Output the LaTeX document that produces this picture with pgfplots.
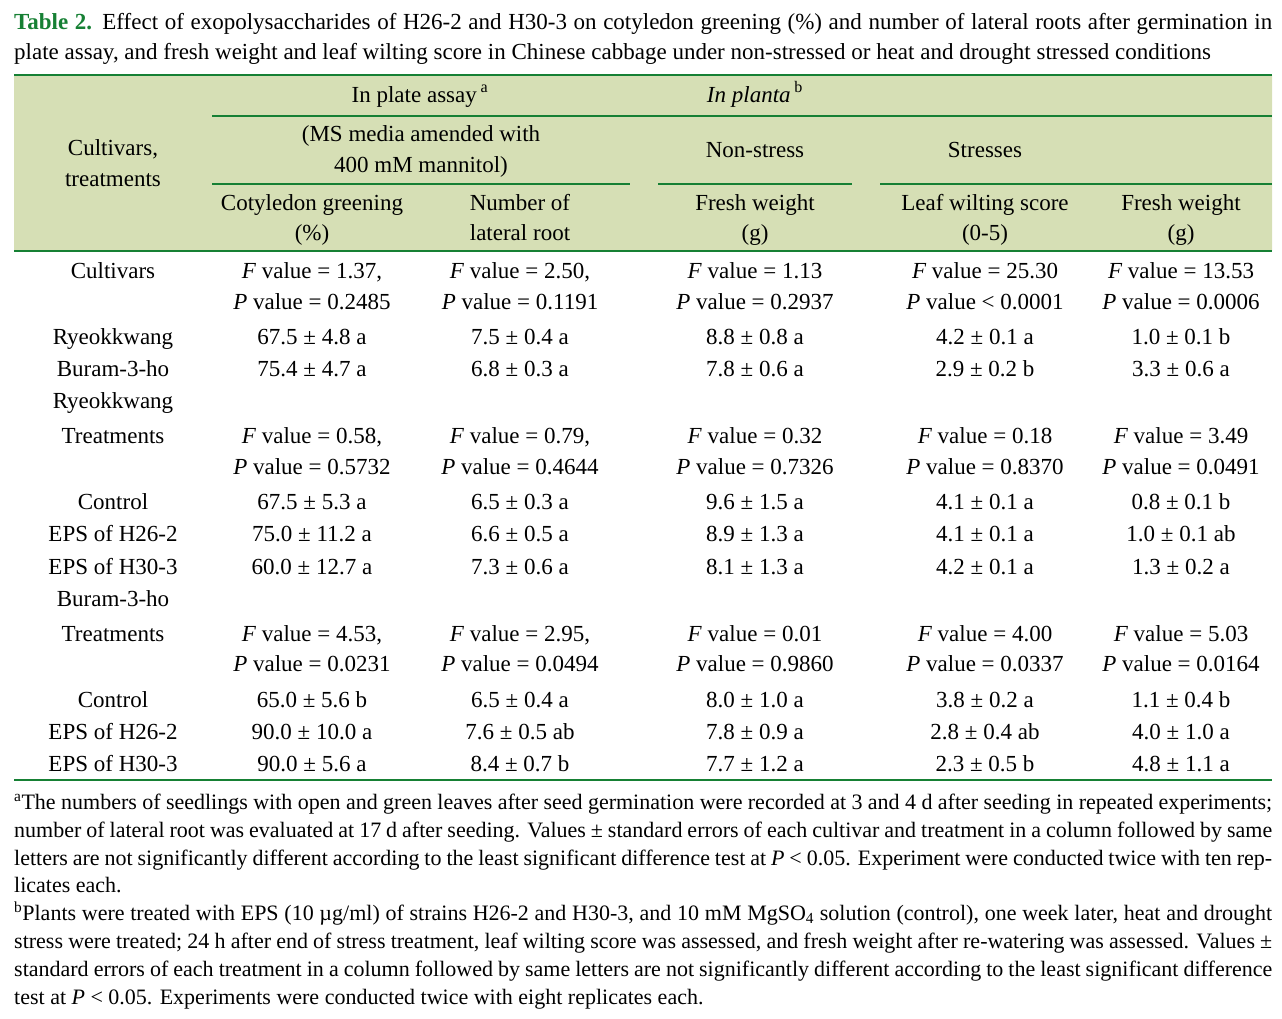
\documentclass[border=0pt]{standalone}
\usepackage{fontspec}
\setmainfont{Liberation Serif}
\usepackage{pgfplots}
\pgfplotsset{compat=1.18}
\definecolor{tgreen}{RGB}{22,128,52}
\definecolor{band}{RGB}{214,223,181}
\newcommand{\T}[3]{\node[anchor=base,inner sep=0pt] at (axis cs:#1,#2) {#3};}
\newcommand{\JJ}[2]{\node[anchor=base west,inner sep=0pt] at (axis cs:14,#1) {\makebox[1258pt][s]{#2}};}
\newcommand{\LL}[2]{\node[anchor=base west,inner sep=0pt] at (axis cs:14,#1) {#2};}
\newcommand{\FN}{\fontsize{22pt}{26pt}\selectfont}
\newcommand{\FV}[1]{\textit{F} value = #1}
\newcommand{\PV}[1]{\textit{P} value = #1}
\begin{document}
\fontsize{23pt}{27pt}\selectfont
\begin{tikzpicture}
\begin{axis}[hide axis, scale only axis, width=1282pt, height=1018pt,
  xmin=0, xmax=1282, ymin=0, ymax=1018, y dir=reverse, clip=false,
  every node/.style={font=\fontsize{23pt}{27pt}\selectfont}]
% frame for the bounding box
\addplot[draw=none, forget plot] coordinates {(0,0) (1282,0) (1282,1018) (0,1018)};
% header band
\addplot[fill=band, draw=none] coordinates {(14,75) (1272,75) (1272,251) (14,251) (14,75)};
% rules
\addplot[tgreen, line width=2pt] coordinates {(14,75) (1272,75)};
\addplot[tgreen, line width=2pt] coordinates {(212,116) (1272,116)};
\addplot[tgreen, line width=2pt] coordinates {(212,184) (630,184)};
\addplot[tgreen, line width=2pt] coordinates {(658,184) (852,184)};
\addplot[tgreen, line width=2pt] coordinates {(880,184) (1272,184)};
\addplot[tgreen, line width=2.4pt] coordinates {(14,251) (1272,251)};
\addplot[tgreen, line width=2pt] coordinates {(14,780) (1272,780)};
% title
\JJ{29}{{\bfseries\color{tgreen}Table 2.} Effect of exopolysaccharides of H26-2 and H30-3 on cotyledon greening (\%) and number of lateral roots after germination in}
\LL{59}{plate assay, and fresh weight and leaf wilting score in Chinese cabbage under non-stressed or heat and drought stressed conditions}
% header text
\T{420}{102}{In plate assay\,\textsuperscript{a}}
\T{755}{102}{\textit{In planta}\,\textsuperscript{b}}
\T{421}{141}{(MS media amended with}
\T{421}{172}{400 mM mannitol)}
\T{113}{155}{Cultivars,}
\T{113}{186}{treatments}
\T{755}{157}{Non-stress}
\T{985}{157}{Stresses}
\T{312}{210}{Cotyledon greening}
\T{312}{240}{(\%)}
\T{520}{210}{Number of}
\T{520}{240}{lateral root}
\T{755}{210}{Fresh weight}
\T{755}{240}{(g)}
\T{985}{210}{Leaf wilting score}
\T{985}{240}{(0-5)}
\T{1181}{210}{Fresh weight}
\T{1181}{240}{(g)}
% body: cultivars
\T{113}{278}{Cultivars}
\T{312}{278}{\FV{1.37},}
\T{312}{309}{\PV{0.2485}}
\T{520}{278}{\FV{2.50},}
\T{520}{309}{\PV{0.1191}}
\T{755}{278}{\FV{1.13}}
\T{755}{309}{\PV{0.2937}}
\T{985}{278}{\FV{25.30}}
\T{985}{309}{\textit{P} value < 0.0001}
\T{1181}{278}{\FV{13.53}}
\T{1181}{309}{\PV{0.0006}}
\T{113}{344}{Ryeokkwang}
\T{312}{344}{67.5 ± 4.8 a}
\T{520}{344}{7.5 ± 0.4 a}
\T{755}{344}{8.8 ± 0.8 a}
\T{985}{344}{4.2 ± 0.1 a}
\T{1181}{344}{1.0 ± 0.1 b}
\T{113}{376}{Buram-3-ho}
\T{312}{376}{75.4 ± 4.7 a}
\T{520}{376}{6.8 ± 0.3 a}
\T{755}{376}{7.8 ± 0.6 a}
\T{985}{376}{2.9 ± 0.2 b}
\T{1181}{376}{3.3 ± 0.6 a}
% Ryeokkwang treatments
\T{113}{408}{Ryeokkwang}
\T{113}{443}{Treatments}
\T{312}{443}{\FV{0.58},}
\T{312}{474}{\PV{0.5732}}
\T{520}{443}{\FV{0.79},}
\T{520}{474}{\PV{0.4644}}
\T{755}{443}{\FV{0.32}}
\T{755}{474}{\PV{0.7326}}
\T{985}{443}{\FV{0.18}}
\T{985}{474}{\PV{0.8370}}
\T{1181}{443}{\FV{3.49}}
\T{1181}{474}{\PV{0.0491}}
\T{113}{509}{Control}
\T{312}{509}{67.5 ± 5.3 a}
\T{520}{509}{6.5 ± 0.3 a}
\T{755}{509}{9.6 ± 1.5 a}
\T{985}{509}{4.1 ± 0.1 a}
\T{1181}{509}{0.8 ± 0.1 b}
\T{113}{541}{EPS of H26-2}
\T{312}{541}{75.0 ± 11.2 a}
\T{520}{541}{6.6 ± 0.5 a}
\T{755}{541}{8.9 ± 1.3 a}
\T{985}{541}{4.1 ± 0.1 a}
\T{1181}{541}{1.0 ± 0.1 ab}
\T{113}{574}{EPS of H30-3}
\T{312}{574}{60.0 ± 12.7 a}
\T{520}{574}{7.3 ± 0.6 a}
\T{755}{574}{8.1 ± 1.3 a}
\T{985}{574}{4.2 ± 0.1 a}
\T{1181}{574}{1.3 ± 0.2 a}
% Buram-3-ho treatments
\T{113}{606}{Buram-3-ho}
\T{113}{641}{Treatments}
\T{312}{641}{\FV{4.53},}
\T{312}{671}{\PV{0.0231}}
\T{520}{641}{\FV{2.95},}
\T{520}{671}{\PV{0.0494}}
\T{755}{641}{\FV{0.01}}
\T{755}{671}{\PV{0.9860}}
\T{985}{641}{\FV{4.00}}
\T{985}{671}{\PV{0.0337}}
\T{1181}{641}{\FV{5.03}}
\T{1181}{671}{\PV{0.0164}}
\T{113}{707}{Control}
\T{312}{707}{65.0 ± 5.6 b}
\T{520}{707}{6.5 ± 0.4 a}
\T{755}{707}{8.0 ± 1.0 a}
\T{985}{707}{3.8 ± 0.2 a}
\T{1181}{707}{1.1 ± 0.4 b}
\T{113}{739}{EPS of H26-2}
\T{312}{739}{90.0 ± 10.0 a}
\T{520}{739}{7.6 ± 0.5 ab}
\T{755}{739}{7.8 ± 0.9 a}
\T{985}{739}{2.8 ± 0.4 ab}
\T{1181}{739}{4.0 ± 1.0 a}
\T{113}{771}{EPS of H30-3}
\T{312}{771}{90.0 ± 5.6 a}
\T{520}{771}{8.4 ± 0.7 b}
\T{755}{771}{7.7 ± 1.2 a}
\T{985}{771}{2.3 ± 0.5 b}
\T{1181}{771}{4.8 ± 1.1 a}
% footnotes
\JJ{809}{\FN\textsuperscript{a}The numbers of seedlings with open and green leaves after seed germination were recorded at 3 and 4 d after seeding in repeated experiments;}
\JJ{837}{\FN number of lateral root was evaluated at 17 d after seeding. Values ± standard errors of each cultivar and treatment in a column followed by same}
\JJ{865}{\FN letters are not significantly different according to the least significant difference test at \textit{P} < 0.05. Experiment were conducted twice with ten rep-}
\LL{892}{\FN licates each.}
\JJ{920}{\FN\textsuperscript{b}Plants were treated with EPS (10 µg/ml) of strains H26-2 and H30-3, and 10 mM MgSO\textsubscript{4} solution (control), one week later, heat and drought}
\JJ{948}{\FN stress were treated; 24 h after end of stress treatment, leaf wilting score was assessed, and fresh weight after re-watering was assessed. Values ±}
\JJ{976}{\FN standard errors of each treatment in a column followed by same letters are not significantly different according to the least significant difference}
\LL{1004}{\FN test at \textit{P} < 0.05. Experiments were conducted twice with eight replicates each.}
\end{axis}
\end{tikzpicture}
\end{document}
